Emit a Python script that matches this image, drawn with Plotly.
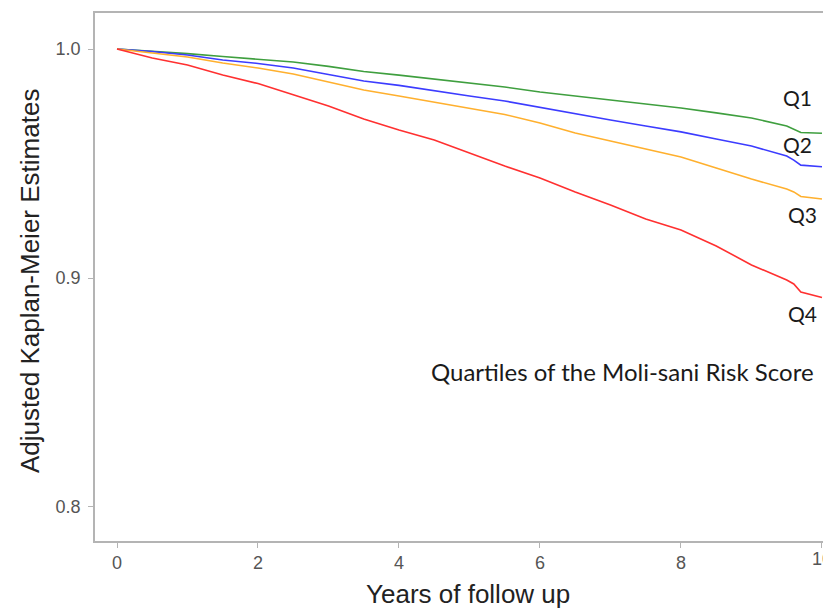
import plotly.graph_objects as go

years = [0, 0.5, 1.0, 1.5, 2.0, 2.5, 3.0, 3.5, 4.0, 4.5, 5.0, 5.5, 6.0, 6.5,
         7.0, 7.5, 8.0, 8.5, 9.0, 9.5, 9.6, 9.7, 10.0]

q1 = [1.0, 0.9991, 0.9980, 0.9967, 0.9956, 0.9943, 0.9924, 0.9902, 0.9886, 0.9869,
      0.9849, 0.9834, 0.9812, 0.9795, 0.9777, 0.9758, 0.9742, 0.9721, 0.9699, 0.9664,
      0.9651, 0.9635, 0.9632]
q2 = [1.0, 0.9989, 0.9974, 0.9952, 0.9937, 0.9917, 0.9889, 0.9860, 0.9841, 0.9817,
      0.9795, 0.9773, 0.9745, 0.9716, 0.9690, 0.9664, 0.9638, 0.9607, 0.9576, 0.9533,
      0.9515, 0.9493, 0.9486]
q3 = [1.0, 0.9983, 0.9965, 0.9939, 0.9917, 0.9891, 0.9856, 0.9821, 0.9795, 0.9769,
      0.9740, 0.9714, 0.9677, 0.9633, 0.9598, 0.9563, 0.9528, 0.9480, 0.9432, 0.9389,
      0.9376, 0.9356, 0.9345]
q4 = [1.0, 0.9961, 0.9930, 0.9886, 0.9849, 0.9799, 0.9751, 0.9694, 0.9646, 0.9603,
      0.9546, 0.9489, 0.9437, 0.9376, 0.9319, 0.9258, 0.9210, 0.9140, 0.9057, 0.8991,
      0.8974, 0.8939, 0.8915]

series_names = ["Q1", "Q2", "Q3", "Q4"]
series_values = [q1, q2, q3, q4]
colors = ["#3f9f3f", "#3c3cff", "#ffb02e", "#ff3030"]

x_ticks = [0, 2, 4, 6, 8, 10]
x_tick_labels = ["0", "2", "4", "6", "8", ""]
y_ticks = [0.8, 0.9, 1.0]
y_tick_labels = ["0.8", "0.9", "1.0"]
edge_tick_label = "10"

label_pos = {"Q1": (9.65, 0.979), "Q2": (9.65, 0.9585),
             "Q3": (9.72, 0.9277), "Q4": (9.72, 0.8846)}

fig = go.Figure()
for name, vals, col in zip(series_names, series_values, colors):
    fig.add_trace(go.Scatter(x=years, y=vals, mode="lines", name=name,
                             line=dict(color=col, width=1.6, shape="linear"),
                             showlegend=False))

for name in series_names:
    lx, ly = label_pos[name]
    fig.add_annotation(x=lx, y=ly, xref="x", yref="y", text=name, showarrow=False,
                       xanchor="center", yanchor="middle",
                       font=dict(family="Lato", size=21, color="#1a1a1a"))

fig.add_annotation(x=7.17, y=0.859, xref="x", yref="y",
                   text="Quartiles of the Moli-sani Risk Score", showarrow=False,
                   xanchor="center", yanchor="middle",
                   font=dict(family="Lato", size=24, color="#1a1a1a"))

# tick label at the right edge (partly cut off in the original)
fig.add_annotation(x=10, y=-0.034, xref="x", yref="paper", text=edge_tick_label,
                   showarrow=False, xanchor="center", yanchor="middle",
                   font=dict(family="Liberation Sans", size=18, color="#555555"))

fig.add_annotation(x=0.5068, y=-0.100, xref="paper", yref="paper",
                   text="Years of follow up", showarrow=False,
                   xanchor="center", yanchor="middle",
                   font=dict(family="Liberation Sans", size=26, color="#222222"))
fig.add_annotation(x=-0.0883, y=0.4924, xref="paper", yref="paper",
                   text="Adjusted Kaplan-Meier Estimates", showarrow=False, textangle=-90,
                   xanchor="center", yanchor="middle",
                   font=dict(family="Liberation Sans", size=26, color="#222222"))

fig.update_layout(
    width=823, height=600,
    margin=dict(l=87, r=0, t=5, b=67),
    paper_bgcolor="white", plot_bgcolor="white",
    xaxis=dict(range=[-0.312, 10.128], tickvals=x_ticks, ticktext=x_tick_labels,
               showgrid=False, zeroline=False,
               showline=True, linecolor="#b4b4b4", linewidth=1.5, mirror=True,
               ticks="outside", ticklen=5, tickcolor="#b4b4b4",
               tickfont=dict(family="Liberation Sans", size=18, color="#555555")),
    yaxis=dict(range=[0.78515, 1.01572], tickvals=y_ticks, ticktext=y_tick_labels,
               showgrid=False, zeroline=False,
               showline=True, linecolor="#b4b4b4", linewidth=1.5,
               ticks="outside", ticklen=5, tickcolor="#b4b4b4", ticklabelstandoff=4,
               tickfont=dict(family="Liberation Sans", size=18, color="#555555")),
)

fig.write_html("out.html")
